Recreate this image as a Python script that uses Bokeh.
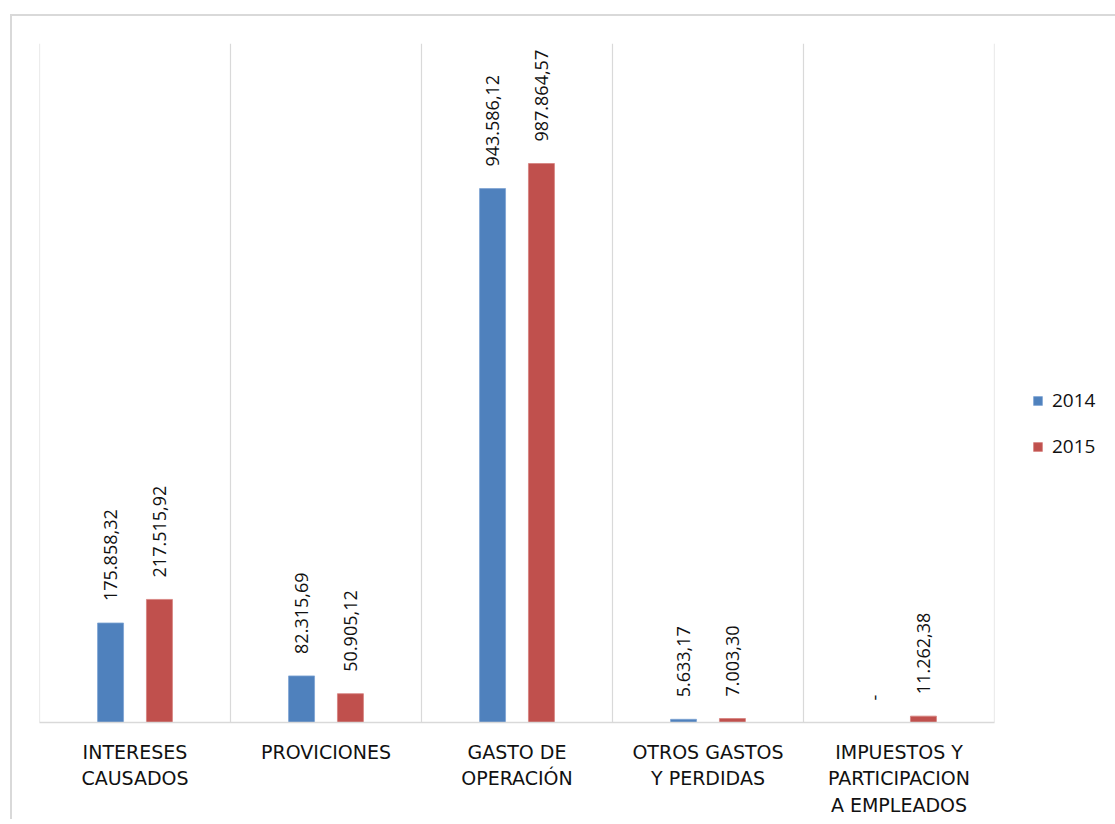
from math import pi
from bokeh.plotting import figure
from bokeh.models import (ColumnDataSource, FactorRange, Range1d, Span, LabelSet,
                          Legend, LegendItem)
from bokeh.transform import dodge
from bokeh.core.properties import value
from bokeh.embed import file_html
from bokeh.resources import INLINE

categories = ["INTERESES\nCAUSADOS", "PROVICIONES", "GASTO DE\nOPERACIÓN",
              "OTROS GASTOS\nY PERDIDAS", "IMPUESTOS Y\nPARTICIPACION\nA EMPLEADOS"]
series_names = ["2014", "2015"]
values_2014 = [175858.32, 82315.69, 943586.12, 5633.17, 0.0]
values_2015 = [217515.92, 50905.12, 987864.57, 7003.30, 11262.38]
colors = ["#4F81BD", "#C0504D"]


def fmt(v):
    if v == 0:
        return "-"
    s = f"{v:,.2f}"
    return s.replace(",", "X").replace(".", ",").replace("X", ".")


src = ColumnDataSource(dict(
    cat=categories,
    v2014=values_2014,
    v2015=values_2015,
    l2014=[fmt(v) for v in values_2014],
    l2015=[fmt(v) for v in values_2015],
))

p = figure(x_range=FactorRange(factors=categories, range_padding=0),
           y_range=Range1d(0, 1200000),
           frame_width=955, frame_height=679,
           output_backend="svg", toolbar_location=None,
           min_border_left=27, min_border_top=27, min_border_right=10,
           min_border_bottom=2)
p.margin = (14, 0, 0, 10)
p.styles = {"border-left": "2px solid #d9d9d9", "border-top": "2px solid #d9d9d9"}

p.outline_line_color = None
p.background_fill_color = "white"
p.border_fill_color = "white"
p.xgrid.visible = False
p.ygrid.visible = False
p.yaxis.visible = False

for i in range(len(categories) + 1):
    p.add_layout(Span(location=i, dimension="height", line_color="#d9d9d9", line_width=1.2))

offset = 0.128
bw = 0.136
r1 = p.vbar(x=dodge("cat", -offset, range=p.x_range), top="v2014", width=bw,
            source=src, fill_color=colors[0], line_color="#7ea3d3", line_width=0.8)
r2 = p.vbar(x=dodge("cat", offset, range=p.x_range), top="v2015", width=bw,
            source=src, fill_color=colors[1], line_color="#d6807e", line_width=0.8)

for col, lab, off in (("v2014", "l2014", -offset), ("v2015", "l2015", offset)):
    ls = LabelSet(x=dodge("cat", off, range=p.x_range), y=col, text=lab, source=src,
                  angle=pi / 2, text_align="left", text_baseline="middle",
                  y_offset=22, text_font=value("Open Sans"), text_font_size="18px",
                  text_color="#111111")
    p.add_layout(ls)

ax = p.xaxis[0]
ax.axis_line_color = "#d9d9d9"
ax.axis_line_width = 1.5
ax.major_tick_line_color = None
ax.minor_tick_line_color = None
ax.major_label_text_font = "DejaVu Sans"
ax.major_label_text_font_size = "19px"
ax.major_label_text_color = "#111111"
ax.major_label_text_line_height = 1.22
ax.major_label_standoff = 12

legend = Legend(items=[LegendItem(label=series_names[0], renderers=[r1]),
                       LegendItem(label=series_names[1], renderers=[r2])],
                location=(38, 263), orientation="vertical",
                glyph_width=11, glyph_height=11, label_standoff=9,
                label_text_font="Open Sans", label_text_font_size="19px",
                label_text_color="#111111", spacing=20, padding=0, margin=0,
                border_line_color=None, background_fill_alpha=0)
p.add_layout(legend, "right")

open("out.html", "w").write(file_html(p, INLINE))
